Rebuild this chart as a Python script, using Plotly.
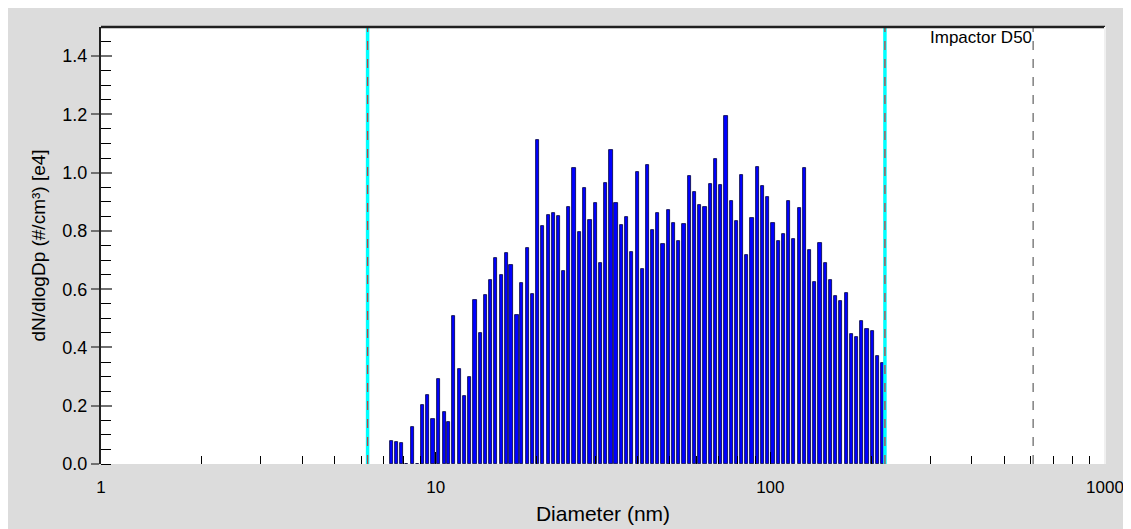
import math
import plotly.graph_objects as go

# Channel midpoint diameters (nm)
diameters = [
    7.37, 7.64, 7.91, 8.2, 8.51, 8.82, 9.14, 9.47, 9.82, 10.2,
    10.6, 10.9, 11.3, 11.8, 12.2, 12.6, 13.1, 13.6, 14.1, 14.6,
    15.1, 15.7, 16.3, 16.8, 17.5, 18.1, 18.8, 19.5, 20.2, 20.9,
    21.7, 22.5, 23.3, 24.1, 25.0, 25.9, 26.9, 27.9, 28.9, 30.0,
    31.1, 32.2, 33.4, 34.6, 35.9, 37.2, 38.5, 40.0, 41.4, 42.9,
    44.5, 46.1, 47.8, 49.6, 51.4, 53.3, 55.2, 57.3, 59.4, 61.5,
    63.8, 66.1, 68.5, 71.0, 73.7, 76.4, 79.1, 82.0, 85.1, 88.2,
    91.4, 94.7, 98.2, 101.8, 105.5, 109.4, 113.4, 117.6, 121.9, 126.3,
    131.0, 135.8, 140.7, 145.9, 151.2, 156.8, 162.5, 168.5, 174.7, 181.1,
    187.7, 194.6, 201.7, 209.1, 216.7,
]

# dN/dlogDp (#/cm3) [e4]
concentration = [
    0.080, 0.077, 0.071, 0.0, 0.126, 0.0, 0.203, 0.236, 0.155, 0.291,
    0.180, 0.143, 0.507, 0.326, 0.234, 0.299, 0.562, 0.450, 0.580, 0.633,
    0.706, 0.650, 0.723, 0.683, 0.511, 0.621, 0.742, 0.584, 1.112, 0.816,
    0.854, 0.862, 0.851, 0.662, 0.882, 1.016, 0.798, 0.947, 0.838, 0.897,
    0.690, 0.965, 1.078, 0.897, 0.820, 0.849, 0.727, 1.003, 0.670, 1.025,
    0.803, 0.862, 0.755, 0.873, 0.828, 0.764, 0.823, 0.987, 0.935, 0.888,
    0.883, 0.962, 1.046, 0.959, 1.193, 0.904, 0.834, 0.993, 0.718, 0.845,
    1.018, 0.953, 0.918, 0.828, 0.766, 0.791, 0.904, 0.773, 0.878, 1.015,
    0.733, 0.624, 0.757, 0.689, 0.631, 0.576, 0.560, 0.587, 0.447, 0.436,
    0.491, 0.462, 0.458, 0.372, 0.347,
]

LOWER_LIMIT = 6.26
UPPER_LIMIT = 220.0
IMPACTOR_D50 = 610.0
Y_MAX = 1.5

x_tick_vals = [1, 10, 100, 1000]
x_tick_text = ["1", "10", "100", "1000"]
x_minor_vals = [2, 3, 4, 5, 6, 7, 8, 9, 20, 30, 40, 50, 60, 70, 80, 90,
                200, 300, 400, 500, 600, 700, 800, 900]

FONT = "Liberation Sans, Arial, sans-serif"

# bar width as a constant fraction of each position on the log axis
BAR_FRAC = 0.022
widths = [d * BAR_FRAC for d in diameters]

fig = go.Figure()

fig.add_trace(go.Bar(
    x=diameters, y=concentration, width=widths,
    marker=dict(color="#0000FF", line=dict(color="#000040", width=0.8)),
    showlegend=False, hoverinfo="x+y",
))

for xv in (LOWER_LIMIT, UPPER_LIMIT):
    fig.add_trace(go.Scatter(x=[xv, xv], y=[0, Y_MAX], mode="lines",
                             line=dict(color="#00FFFF", width=3.5),
                             showlegend=False, hoverinfo="skip"))
    fig.add_trace(go.Scatter(x=[xv, xv], y=[0, Y_MAX], mode="lines",
                             line=dict(color="#C04040", width=1.3, dash="dash"),
                             showlegend=False, hoverinfo="skip"))

fig.add_trace(go.Scatter(x=[IMPACTOR_D50, IMPACTOR_D50], y=[0, Y_MAX], mode="lines",
                         line=dict(color="#808080", width=1.5, dash="dash"),
                         showlegend=False, hoverinfo="skip"))

# invisible trace to carry the inside major ticks of the overlay y axis
fig.add_trace(go.Scatter(x=[IMPACTOR_D50], y=[0], yaxis="y2", mode="markers",
                         marker=dict(opacity=0), showlegend=False, hoverinfo="skip"))

fig.add_annotation(x=math.log10(IMPACTOR_D50), y=1, xref="x", yref="paper",
                   text="Impactor D50", showarrow=False, xanchor="right", yanchor="top",
                   xshift=1, yshift=1,
                   font=dict(family=FONT, size=17, color="black"))

# white plot area
fig.add_shape(type="rect", xref="paper", yref="paper", x0=0, x1=1, y0=0, y1=1,
              fillcolor="white", line=dict(width=0), layer="below")
# top frame line
fig.add_shape(type="line", xref="paper", yref="paper", x0=0, x1=1, y0=1, y1=1,
              line=dict(color="#202020", width=2.5))
# right frame (light)
fig.add_shape(type="line", xref="paper", yref="paper", x0=1, x1=1, y0=0, y1=1,
              line=dict(color="#F0F0F0", width=2))

fig.update_layout(
    width=1123, height=521,
    margin=dict(l=93, r=26, t=19, b=65),
    paper_bgcolor="#DCDCDC", plot_bgcolor="rgba(0,0,0,0)",
    font=dict(family=FONT, size=17, color="black"),
    bargap=0,
    xaxis=dict(
        type="log", range=[0, 3], automargin=False,
        tickvals=x_tick_vals, ticktext=x_tick_text,
        ticks="inside", ticklen=12, tickcolor="black", tickwidth=1,
        ticklabelstandoff=11,
        minor=dict(tickvals=x_minor_vals, ticks="inside", ticklen=8,
                   tickcolor="black", tickwidth=1, showgrid=False),
        showgrid=False, zeroline=False, showline=False,
        title=dict(text="Diameter (nm)", font=dict(size=21), standoff=10),
        tickfont=dict(size=17),
    ),
    yaxis=dict(
        range=[0, Y_MAX], dtick=0.2, tickformat=".1f", automargin=False,
        ticks="outside", ticklen=8, tickcolor="#707070", tickwidth=1.5,
        minor=dict(dtick=0.05, ticks="inside", ticklen=10, tickcolor="black",
                   tickwidth=1, showgrid=False),
        showgrid=False, zeroline=False,
        showline=True, linecolor="#202020", linewidth=2,
        title=dict(text="dN/dlogDp (#/cm³) [e4]", font=dict(size=19), standoff=12),
        tickfont=dict(size=18),
    ),
    yaxis2=dict(
        overlaying="y", side="left", range=[0, Y_MAX], dtick=0.2, automargin=False,
        ticks="inside", ticklen=11, tickcolor="#707070", tickwidth=1.5,
        showticklabels=False, showgrid=False, zeroline=False, showline=False,
    ),
)

fig.write_html("out.html")
